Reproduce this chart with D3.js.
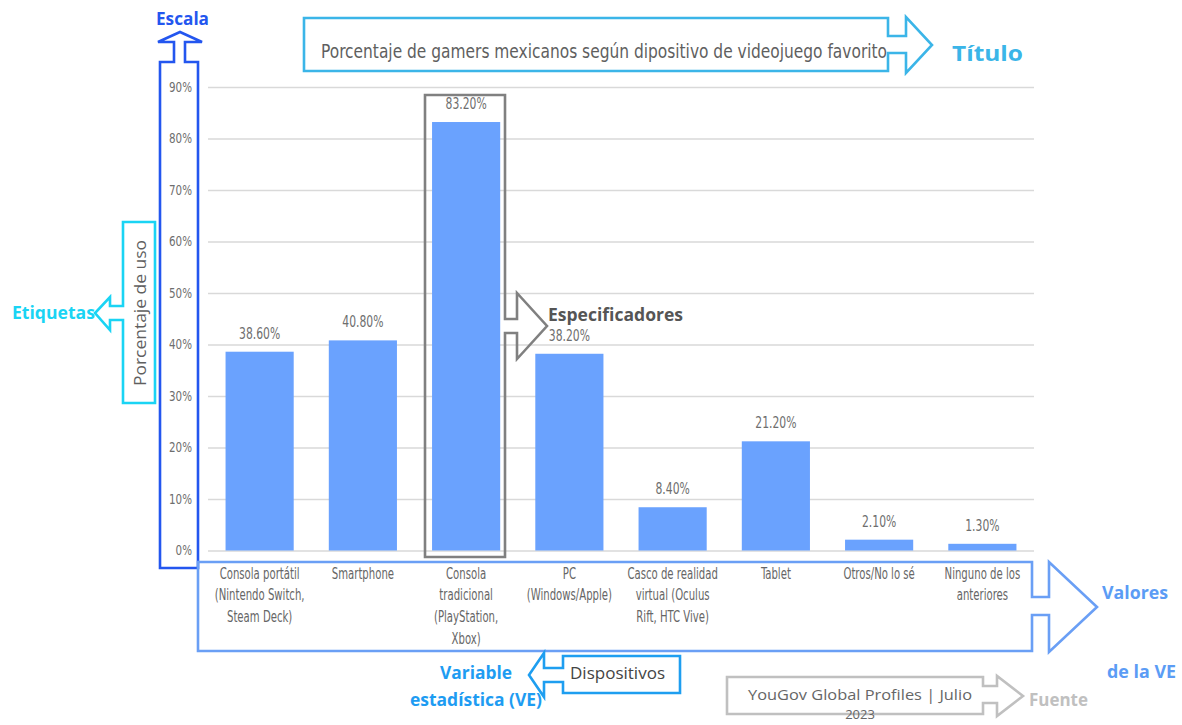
<!DOCTYPE html>
<html><head><meta charset="utf-8">
<script src="https://cdn.jsdelivr.net/npm/d3@7"></script>
<style>
html,body{margin:0;padding:0;background:#fff;}
svg{display:block;}
</style></head>
<body>
<svg id="chart" width="1182" height="725"></svg>
<script>
// ---- data ----
const categories = [
  "Consola portátil\n(Nintendo Switch,\nSteam Deck)",
  "Smartphone",
  "Consola\ntradicional\n(PlayStation,\nXbox)",
  "PC\n(Windows/Apple)",
  "Casco de realidad\nvirtual (Oculus\nRift, HTC Vive)",
  "Tablet",
  "Otros/No lo sé",
  "Ninguno de los\nanteriores"
];
const values = [38.6, 40.8, 83.2, 38.2, 8.4, 21.2, 2.1, 1.3];
const yTicks = [0, 10, 20, 30, 40, 50, 60, 70, 80, 90];
const title = "Porcentaje de gamers mexicanos según dipositivo de videojuego favorito";
const yLabel = "Porcentaje de uso";
const xLabel = "Dispositivos";
const sourceLines = ["YouGov Global Profiles | Julio", "2023"];

// ---- setup ----
const svg = d3.select("#chart");
const narrow = "'Liberation Sans Narrow','DejaVu Sans Condensed','Arial Narrow',sans-serif";
const sans = "'Open Sans','Noto Sans','DejaVu Sans',sans-serif";
function compress(sel, k) {
  sel.each(function() {
    const w = this.getComputedTextLength();
    d3.select(this).attr("textLength", w * k).attr("lengthAdjust", "spacingAndGlyphs");
  });
}

const x = d3.scaleBand().domain(categories).range([208, 1034]).paddingInner(0.34).paddingOuter(0.17);
const y = d3.scaleLinear().domain([0, 90]).range([550.5, 87]);

// gridlines + tick labels via axis
const yAxis = d3.axisLeft(y).tickValues(yTicks).tickFormat(d => d + "%").tickSize(-(1034 - 208)).tickPadding(16);
const ga = svg.append("g").attr("transform", "translate(208,0)").call(yAxis);
ga.select(".domain").remove();
ga.selectAll(".tick line").attr("stroke", "#d9d9d9").attr("stroke-width", 1.5);
ga.selectAll(".tick text").attr("fill", "#6e6e6e").style("font-family", narrow).style("font-size", "14px");
compress(ga.selectAll(".tick text"), 0.82);

// x axis category labels
const xAxis = d3.axisBottom(x).tickSize(0).tickFormat("");
const gx = svg.append("g").attr("transform", "translate(0,550.5)").call(xAxis);
gx.select(".domain").remove();
gx.selectAll(".tick").each(function(d) {
  const t = d3.select(this).append("text")
    .attr("text-anchor", "middle").attr("fill", "#666")
    .style("font-family", narrow).style("font-size", "15px");
  d.split("\n").forEach((line, i) => {
    t.append("tspan").attr("x", 0).attr("y", 28 + i * 21.7).text(line);
  });
});
compress(gx.selectAll("tspan"), 0.75);

// bars
svg.append("g").selectAll("rect").data(values).join("rect")
  .attr("x", (d, i) => x(categories[i]))
  .attr("width", x.bandwidth())
  .attr("y", d => y(d))
  .attr("height", d => y(0) - y(d))
  .attr("fill", "#6aa2fe");

// value labels
const vl = svg.append("g").selectAll("text").data(values).join("text")
  .attr("x", (d, i) => x(categories[i]) + x.bandwidth() / 2)
  .attr("y", d => y(d) - 13)
  .attr("text-anchor", "middle").attr("fill", "#6e6e6e")
  .style("font-family", narrow).style("font-size", "15px")
  .text(d => d.toFixed(2) + "%");
compress(vl, 0.8);

// ---- annotation arrows ----
function arrowPath(dir, b, s0, s1, base, h0, h1, tip, tipC) {
  let p;
  if (dir === "right") {
    p = [[b.x0,b.y0],[b.x1,b.y0],[b.x1,s0],[base,s0],[base,h0],[tip,tipC],[base,h1],[base,s1],[b.x1,s1],[b.x1,b.y1],[b.x0,b.y1]];
  } else if (dir === "left") {
    p = [[b.x1,b.y0],[b.x0,b.y0],[b.x0,s0],[base,s0],[base,h0],[tip,tipC],[base,h1],[base,s1],[b.x0,s1],[b.x0,b.y1],[b.x1,b.y1]];
  } else { // up
    p = [[b.x0,b.y1],[b.x0,b.y0],[s0,b.y0],[s0,base],[h0,base],[tipC,tip],[h1,base],[s1,base],[s1,b.y0],[b.x1,b.y0],[b.x1,b.y1]];
  }
  return d3.line()(p) + "Z";
}
const ann = svg.append("g").attr("fill", "none").attr("stroke-width", 2.6).attr("stroke-linejoin", "miter");

function label(xp, yp, txt, color, size, bold, width, anchor) {
  const t = svg.append("text").attr("x", xp).attr("y", yp).attr("fill", color)
    .attr("text-anchor", anchor || "start")
    .style("font-family", sans).style("font-weight", bold ? "bold" : "normal").style("font-size", size + "px").text(txt);
  if (width) t.attr("textLength", width).attr("lengthAdjust", "spacingAndGlyphs");
  return t;
}

// Title
ann.append("path").attr("d", arrowPath("right", {x0:304,y0:18,x1:888,y1:71}, 36, 53, 906, 17, 73, 932, 45)).attr("stroke", "#3bb5e8");
svg.append("text").attr("x", 321).attr("y", 58).attr("fill", "#5f5f5f")
  .style("font-family", narrow).style("font-size", "19px")
  .attr("textLength", 566).attr("lengthAdjust", "spacingAndGlyphs").text(title);
label(952, 61, "Título", "#3bb5e8", 21, true, 71);

// Escala
ann.append("path").attr("d", arrowPath("up", {x0:160,y0:62,x1:198,y1:568}, 174, 185, 42, 158, 202, 32, 180)).attr("stroke", "#2356ef");
label(156, 25, "Escala", "#2356ef", 17, true, 53);

// Etiquetas
ann.append("path").attr("d", arrowPath("left", {x0:123,y0:222,x1:155,y1:403}, 306, 320, 110, 297, 330, 95, 313)).attr("stroke", "#1ad4f4");
label(12, 319, "Etiquetas", "#1ad4f4", 17, true, 83);
svg.append("text").attr("transform", "translate(146,313) rotate(-90)").attr("text-anchor", "middle").attr("fill", "#5f5f5f")
  .style("font-family", sans).style("font-size", "16px").attr("textLength", 146).attr("lengthAdjust", "spacingAndGlyphs").text(yLabel);

// Especificadores
ann.append("path").attr("d", arrowPath("right", {x0:425,y0:95,x1:505,y1:557}, 319, 333, 517, 293, 359, 547, 326)).attr("stroke", "#808080");
label(548, 321, "Especificadores", "#555", 17.5, true, 135);

// Valores de la VE
ann.append("path").attr("d", arrowPath("right", {x0:198,y0:562,x1:1032,y1:651}, 597, 615, 1049, 562, 652, 1097, 607)).attr("stroke", "#6a9ff5");
label(1102, 599, "Valores", "#5b9cf5", 17.5, true, 66);
label(1107, 678, "de la VE", "#5b9cf5", 17.5, true, 69);

// Dispositivos / Variable estadística
ann.append("path").attr("d", arrowPath("left", {x0:563,y0:656,x1:680,y1:693}, 668, 682, 544, 653, 697, 529, 675)).attr("stroke", "#1e9ef0");
label(570, 679, xLabel, "#444", 16.5, false, 95);
label(476, 679, "Variable", "#1e9cf2", 17, true, 72, "middle");
label(476, 706, "estadística (VE)", "#1e9cf2", 17, true, 132, "middle");

// Fuente
ann.append("path").attr("d", arrowPath("right", {x0:727,y0:677,x1:983,y1:714}, 686, 703, 997, 676, 716, 1023, 696)).attr("stroke", "#c0c0c0");
label(860, 700, sourceLines[0], "#666", 15, false, 224, "middle");
label(860, 719, sourceLines[1], "#666", 13, false, null, "middle");
label(1029, 706, "Fuente", "#c0c0c0", 17, true, 59);
</script>
</body></html>
